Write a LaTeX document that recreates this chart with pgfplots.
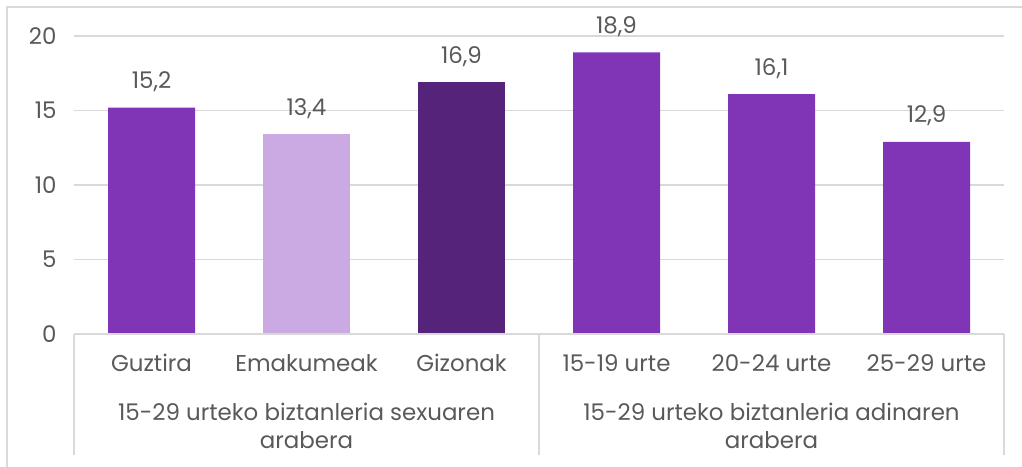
\documentclass[border=0pt]{standalone}
\usepackage{pgfplots}
\pgfplotsset{compat=1.18}
\usepackage{fontspec}
\setmainfont{Poppins}
\definecolor{txt}{HTML}{595959}
\definecolor{gridc}{HTML}{D9D9D9}
\definecolor{pmain}{HTML}{7F35B5}
\definecolor{plight}{HTML}{CBA9E3}
\definecolor{pdark}{HTML}{55247A}
\newcommand{\lbl}{\fontsize{23}{28}\selectfont}
\begin{document}
\begin{tikzpicture}[x=1bp,y=1bp]
\useasboundingbox (0,0) rectangle (1022,467);
\draw[gridc, line width=1.5bp] (7,0) -- (7,460) -- (1022,460);
\begin{axis}[
  at={(74bp,133bp)}, anchor=south west,
  width=930bp, height=298bp, scale only axis,
  xmin=-0.5, xmax=5.5, ymin=0, ymax=20,
  axis line style={draw=none},
  ymajorgrids, grid style={gridc, line width=1.5bp},
  ytick={0,5,10,15,20},
  xtick={0,1,2,3,4,5},
  xticklabels={Guztira,Emakumeak,Gizonak,15-19 urte,20-24 urte,25-29 urte},
  tick style={draw=none}, major tick length=0pt,
  ticklabel style={font=\lbl, text=txt},
  xticklabel style={anchor=base, yshift=-38bp},
  yticklabel style={anchor=east, xshift=-14bp},
  /pgf/number format/assume math mode=true,
  ybar, bar width=87bp,
  nodes near coords={\pgfmathprintnumber[fixed,fixed zerofill,precision=1,use comma,assume math mode=true]{\pgfplotspointmeta}},
  every node near coord/.append style={font=\lbl, text=txt, anchor=base, yshift=19bp},
  clip=false,
]
\addplot[fill=pmain, draw=none, bar shift=0pt] coordinates {(0,15.2) (3,18.9) (4,16.1) (5,12.9)};
\addplot[fill=plight, draw=none, bar shift=0pt] coordinates {(1,13.4)};
\addplot[fill=pdark, draw=none, bar shift=0pt] coordinates {(2,16.9)};
\draw[gridc, line width=1.5bp] (axis cs:-0.5,0) -- (axis cs:5.5,0);
\draw[gridc, line width=1.5bp] (axis cs:-0.5,0) -- ++(0bp,-121bp);
\draw[gridc, line width=1.5bp] (axis cs:2.5,0) -- ++(0bp,-121bp);
\draw[gridc, line width=1.5bp] (axis cs:5.5,0) -- ++(0bp,-121bp);
\node[font=\lbl, text=txt, anchor=base] at (axis cs:1,0) [yshift=-87bp] {15-29 urteko biztanleria sexuaren};
\node[font=\lbl, text=txt, anchor=base] at (axis cs:1,0) [yshift=-115bp] {arabera};
\node[font=\lbl, text=txt, anchor=base] at (axis cs:4,0) [yshift=-87bp] {15-29 urteko biztanleria adinaren};
\node[font=\lbl, text=txt, anchor=base] at (axis cs:4,0) [yshift=-115bp] {arabera};
\end{axis}
\end{tikzpicture}
\end{document}
